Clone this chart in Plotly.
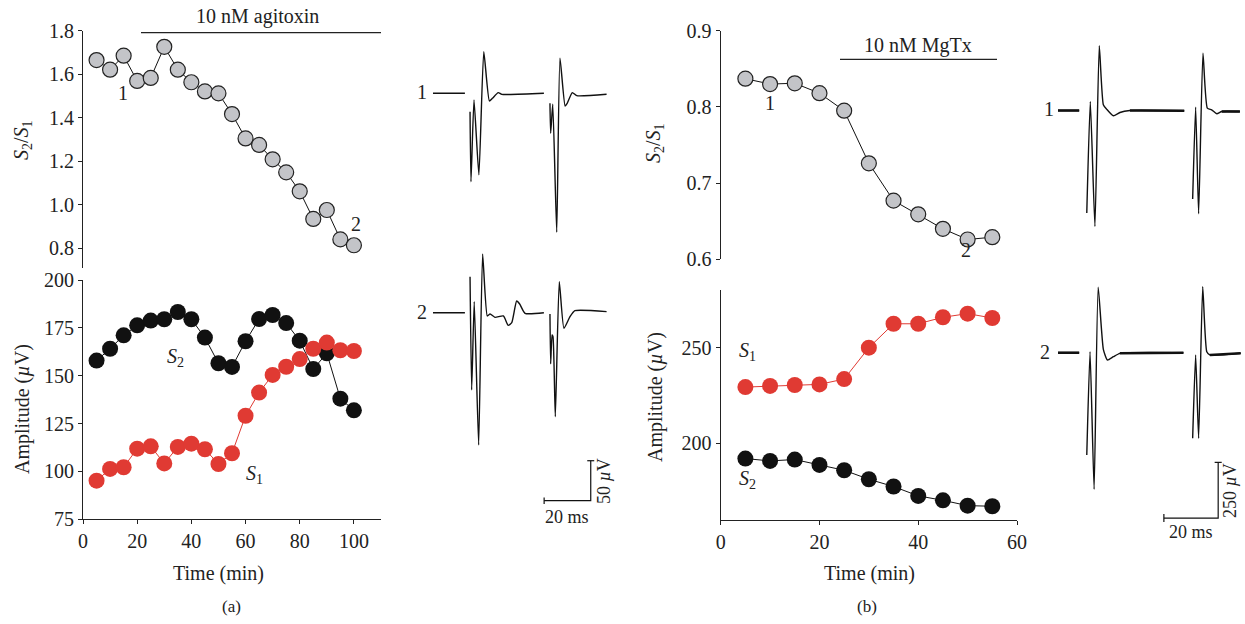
import plotly.graph_objects as go

W, H = 1245, 624
FONT = "Liberation Serif"

# ---------------- data: panel (a) ----------------
time_a = [5, 10, 15, 20, 25, 30, 35, 40, 45, 50, 55, 60, 65, 70, 75, 80, 85, 90, 95, 100]
ratio_a = [1.665, 1.621, 1.685, 1.569, 1.583, 1.726, 1.621, 1.563, 1.521, 1.512,
           1.417, 1.305, 1.275, 1.209, 1.149, 1.062, 0.935, 0.976, 0.841, 0.814]
s2_a = [157.9, 164.1, 171.1, 176.3, 178.8, 179.5, 183.3, 179.5, 169.9, 156.5,
        154.6, 168.0, 179.6, 181.7, 177.5, 168.3, 153.5, 161.7, 138.0, 131.9]
s1_a = [95.2, 101.3, 102.2, 111.9, 113.1, 104.2, 112.8, 114.5, 111.6, 103.9,
        109.5, 129.1, 141.2, 150.4, 154.7, 158.7, 164.1, 167.3, 163.3, 162.9]

# ---------------- data: panel (b) ----------------
time_b = [5, 10, 15, 20, 25, 30, 35, 40, 45, 50, 55]
ratio_b = [0.837, 0.830, 0.831, 0.818, 0.795, 0.726, 0.677, 0.659, 0.640, 0.626, 0.629]
s1_b = [229.4, 230.0, 230.5, 230.8, 233.6, 250.0, 262.5, 262.5, 265.9, 267.8, 265.5]
s2_b = [192.0, 190.8, 191.5, 188.7, 185.9, 181.2, 177.4, 172.5, 170.2, 167.4, 167.1]

# ---------------- example recordings (ms, µV), segments ----------------
rec_a1_t = [[0, 13.7],
            [15.9, 16.3, 17.6, 19.7, 21.8, 24.2, 25.5, 28.0, 29.5, 47.6],
            [50.2, 50.5, 51.4, 53.1, 54.5, 56.7, 57.6, 59.8, 61.7, 74.5]]
rec_a1_v = [[0, 0],
            [-23, -110.5, -8.4, -102, 52, -9.6, -6.3, 0.8, -1.3, 0],
            [-12.5, -50, -13.8, -173.8, 43.8, -15.9, -12.5, 0.8, -3, -1.3]]
rec_a2_t = [[0, 13.7],
            [15.9, 16.6, 17.7, 19.6, 21.3, 23.3, 24.5, 26.6, 30.2, 32.3, 33.8, 35.9, 37.2, 39.5, 47.6],
            [50.2, 50.5, 51.1, 51.5, 52.5, 54.2, 56.2, 58.8, 60.9, 74.5]]
rec_a2_v = [[0, 0],
            [45, -96.6, 13.8, -165.4, 73.4, -4.1, -1.6, -5.8, -4.1, -15.9, -12.5, 14.6, 10.9, -0.8, 0],
            [-1.6, -64, -27.9, -30, -130, 38.8, -19.5, -5, 2.5, 1.3]]
rec_b1_t = [[0, 7.8],
            [10.6, 11.9, 13.6, 15.2, 16.7, 17.9, 20.4, 22.8, 26.5, 46.5],
            [49.6, 50.7, 51.8, 53.4, 55.0, 56.6, 58.5, 60.3, 67.0]]
rec_b1_v = [[0, 0],
            [-460.7, 40.4, -520.9, 290.5, 25.6, 6.3, -23.8, -9, 0, -1.3],
            [-397.8, 15.3, -463.8, 257.7, 10.8, 3.1, -14.8, -4.5, -4.5]]
rec_b2_t = [[0, 7.8],
            [10.6, 11.8, 13.3, 14.8, 16.7, 18.2, 20.4, 22.8, 46.2],
            [49.6, 50.7, 51.8, 53.3, 54.8, 56.0, 67.3]]
rec_b2_v = [[0, 0],
            [-459.4, 4.5, -613.4, 293.7, 15.3, -32.8, -18, -2.7, 0],
            [-384.4, -10.3, -384.4, 296.4, 4.5, -10.3, -2.7]]

# scale bars
scale_ms = 20
scale_uv_a = 50
scale_uv_b = 250

# ---------------- layout helpers ----------------
def fx(p):
    return p / W


def fy(p):
    return 1 - p / H


GRAY = "#c3c4c8"
RED = "#e03a33"
BLK = "#111111"

fig = go.Figure()


def join(ts, vs, off=0.0):
    xs, ys = [], []
    for t, v in zip(ts, vs):
        xs += list(t) + [None]
        ys += [vv + off for vv in v] + [None]
    return xs, ys


# panel (a) top
fig.add_trace(go.Scatter(x=time_a, y=ratio_a, mode="lines+markers", xaxis="x", yaxis="y",
                         line=dict(color=BLK, width=1),
                         marker=dict(size=15, color=GRAY, line=dict(color="#222", width=1.2)),
                         cliponaxis=False, showlegend=False))
# panel (a) bottom
fig.add_trace(go.Scatter(x=time_a, y=s2_a, mode="lines+markers", xaxis="x2", yaxis="y2",
                         line=dict(color=BLK, width=1), marker=dict(size=16, color=BLK),
                         cliponaxis=False, showlegend=False))
fig.add_trace(go.Scatter(x=time_a, y=s1_a, mode="lines+markers", xaxis="x2", yaxis="y2",
                         line=dict(color=RED, width=1), marker=dict(size=16, color=RED),
                         cliponaxis=False, showlegend=False))
# panel (b) top
fig.add_trace(go.Scatter(x=time_b, y=ratio_b, mode="lines+markers", xaxis="x3", yaxis="y3",
                         line=dict(color=BLK, width=1),
                         marker=dict(size=15, color=GRAY, line=dict(color="#222", width=1.2)),
                         cliponaxis=False, showlegend=False))
# panel (b) bottom
fig.add_trace(go.Scatter(x=time_b, y=s1_b, mode="lines+markers", xaxis="x4", yaxis="y4",
                         line=dict(color=RED, width=1), marker=dict(size=16, color=RED),
                         cliponaxis=False, showlegend=False))
fig.add_trace(go.Scatter(x=time_b, y=s2_b, mode="lines+markers", xaxis="x4", yaxis="y4",
                         line=dict(color=BLK, width=1), marker=dict(size=16, color=BLK),
                         cliponaxis=False, showlegend=False))

# recordings (a)
off_a = 274.25
for ts, vs, off in [(rec_a1_t, rec_a1_v, 0.0), (rec_a2_t, rec_a2_v, -off_a)]:
    xs, ys = join(ts, vs, off)
    fig.add_trace(go.Scatter(x=xs, y=ys, mode="lines", xaxis="x5", yaxis="y5",
                             line=dict(color=BLK, width=1.4, shape="spline", smoothing=0.5),
                             showlegend=False, cliponaxis=False))
# recordings (b)
off_b = 1087.6
for ts, vs, off in [(rec_b1_t, rec_b1_v, 0.0), (rec_b2_t, rec_b2_v, -off_b)]:
    xs, ys = join(ts, vs, off)
    fig.add_trace(go.Scatter(x=xs, y=ys, mode="lines", xaxis="x6", yaxis="y6",
                             line=dict(color=BLK, width=1.4, shape="spline", smoothing=0.5),
                             showlegend=False, cliponaxis=False))
    # noisy baselines appear thick
    bx, by = [], []
    for t, v in zip(ts, vs):
        if len(t) == 2:
            bx += list(t) + [None]
            by += [vv + off for vv in v] + [None]
    bx += [ts[1][-2], ts[1][-1], None, ts[2][-2], ts[2][-1]]
    by += [vs[1][-2] + off, vs[1][-1] + off, None, vs[2][-2] + off, vs[2][-1] + off]
    fig.add_trace(go.Scatter(x=bx, y=by, mode="lines", xaxis="x6", yaxis="y6",
                             line=dict(color=BLK, width=2.6), showlegend=False, cliponaxis=False))

# scale bars (a)
ca_t, ca_v = 67.7, -509.3
fig.add_trace(go.Scatter(x=[ca_t - scale_ms, ca_t, ca_t], y=[ca_v, ca_v, ca_v + scale_uv_a],
                         mode="lines", xaxis="x5", yaxis="y5", line=dict(color=BLK, width=1.2),
                         showlegend=False, cliponaxis=False))
fig.add_trace(go.Scatter(x=[ca_t - scale_ms, ca_t - scale_ms, None, ca_t - 1.5, ca_t + 1.5],
                         y=[ca_v - 4, ca_v + 4, None, ca_v + scale_uv_a, ca_v + scale_uv_a],
                         mode="lines", xaxis="x5", yaxis="y5", line=dict(color=BLK, width=1.2),
                         showlegend=False, cliponaxis=False))
# scale bars (b)
cb_t, cb_v = 59.0, -1830.0
fig.add_trace(go.Scatter(x=[cb_t - scale_ms, cb_t, cb_t], y=[cb_v, cb_v, cb_v + scale_uv_b],
                         mode="lines", xaxis="x6", yaxis="y6", line=dict(color=BLK, width=1.2),
                         showlegend=False, cliponaxis=False))
fig.add_trace(go.Scatter(x=[cb_t - scale_ms, cb_t - scale_ms, None, cb_t - 1.3, cb_t + 1.3],
                         y=[cb_v - 18, cb_v + 18, None, cb_v + scale_uv_b, cb_v + scale_uv_b],
                         mode="lines", xaxis="x6", yaxis="y6", line=dict(color=BLK, width=1.2),
                         showlegend=False, cliponaxis=False))

tickfont = dict(family=FONT, size=20, color="#222")


def ax(dom, rng, **kw):
    d = dict(domain=dom, range=rng, showline=True, linecolor="#222", linewidth=1.2,
             ticks="outside", ticklen=4, tickcolor="#222", tickwidth=1.2,
             showgrid=False, zeroline=False, tickfont=tickfont, fixedrange=True,
             automargin=False)
    d.update(kw)
    return d


xa_dom = [fx(83), fx(381)]
xb_dom = [fx(720.7), fx(1017)]

fig.update_layout(
    width=W, height=H, margin=dict(l=0, r=0, t=0, b=0, autoexpand=False),
    paper_bgcolor="white", plot_bgcolor="rgba(0,0,0,0)",
    font=dict(family=FONT, size=20, color="#222"),
    xaxis=ax(xa_dom, [0, 110], visible=False, anchor="y"),
    yaxis=ax([fy(268), fy(30.7)], [0.7095, 1.8], tickvals=[0.8, 1.0, 1.2, 1.4, 1.6, 1.8],
             tickformat=".1f", anchor="x"),
    xaxis2=ax(xa_dom, [0, 110], tickvals=[0, 20, 40, 60, 80, 100], anchor="y2"),
    yaxis2=ax([fy(519.3), fy(280)], [75, 200], tickvals=[75, 100, 125, 150, 175, 200], anchor="x2"),
    xaxis3=ax(xb_dom, [0, 60], visible=False, anchor="y3"),
    yaxis3=ax([fy(259.3), fy(30.7)], [0.6, 0.9], tickvals=[0.6, 0.7, 0.8, 0.9],
              tickformat=".1f", anchor="x3"),
    xaxis4=ax(xb_dom, [0, 60], tickvals=[0, 20, 40, 60], anchor="y4"),
    yaxis4=ax([fy(519.8), fy(290.3)], [160, 280], tickvals=[200, 250], anchor="x4"),
    xaxis5=dict(domain=[fx(400), fx(620)], range=[-14.16, 80.26], visible=False, anchor="y5",
                fixedrange=True),
    yaxis5=dict(domain=[fy(540), fy(40)], range=[-558.4, 66.6], visible=False, anchor="x5",
                fixedrange=True),
    xaxis6=dict(domain=[fx(1040), fx(1245)], range=[-6.63, 68.88], visible=False, anchor="y6",
                fixedrange=True),
    yaxis6=dict(domain=[fy(540), fy(30)], range=[-1928.6, 361.5], visible=False, anchor="x6",
                fixedrange=True),
)

ann = []


def txt(x, y, s, size=20, angle=0, xanchor="center"):
    ann.append(dict(x=fx(x), y=fy(y), xref="paper", yref="paper", text=s, showarrow=False,
                    font=dict(family=FONT, size=size, color="#222"), textangle=angle,
                    xanchor=xanchor, yanchor="middle"))


S21 = "<i>S</i><sub>2</sub>/<i>S</i><sub>1</sub>"
AMP = "Amplitude (<i>µ</i>V)"
txt(22, 140, S21, angle=-90)
txt(22, 409, AMP, angle=-90)
txt(655, 143, S21, angle=-90)
txt(655, 397, AMP, angle=-90)
txt(218, 573, "Time (min)")
txt(869, 573, "Time (min)")
txt(231, 606, "(a)", size=17)
txt(867, 606, "(b)", size=17)
txt(257.5, 16, "10 nM agitoxin")
txt(918, 46, "10 nM MgTx")
# point labels
txt(122.7, 93, "1")
txt(356, 224, "2")
txt(770, 103, "1")
txt(966, 250, "2")
txt(175, 357, "<i>S</i><sub>2</sub>")
txt(254, 474, "<i>S</i><sub>1</sub>")
txt(747, 351, "<i>S</i><sub>1</sub>")
txt(747, 479, "<i>S</i><sub>2</sub>")
# trace labels
txt(421.7, 92, "1")
txt(421.7, 312, "2")
txt(1049, 109, "1")
txt(1045, 352, "2")
# scale bar labels
txt(567, 517, "20 ms", size=18)
txt(604, 481, "50 <i>µ</i>V", size=18, angle=-90)
txt(1191, 532, "20 ms", size=18)
txt(1230, 491, "250 <i>µ</i>V", size=18, angle=-90)

fig.update_layout(annotations=ann)

fig.add_shape(type="line", xref="paper", yref="paper", x0=fx(141), x1=fx(381),
              y0=fy(32.7), y1=fy(32.7), line=dict(color="#222", width=1.3))
fig.add_shape(type="line", xref="paper", yref="paper", x0=fx(840), x1=fx(997),
              y0=fy(59.3), y1=fy(59.3), line=dict(color="#222", width=1.3))

fig.write_html("out.html", config={"displayModeBar": False},
               post_script="document.body.style.margin='0';document.body.style.overflow='hidden';")
